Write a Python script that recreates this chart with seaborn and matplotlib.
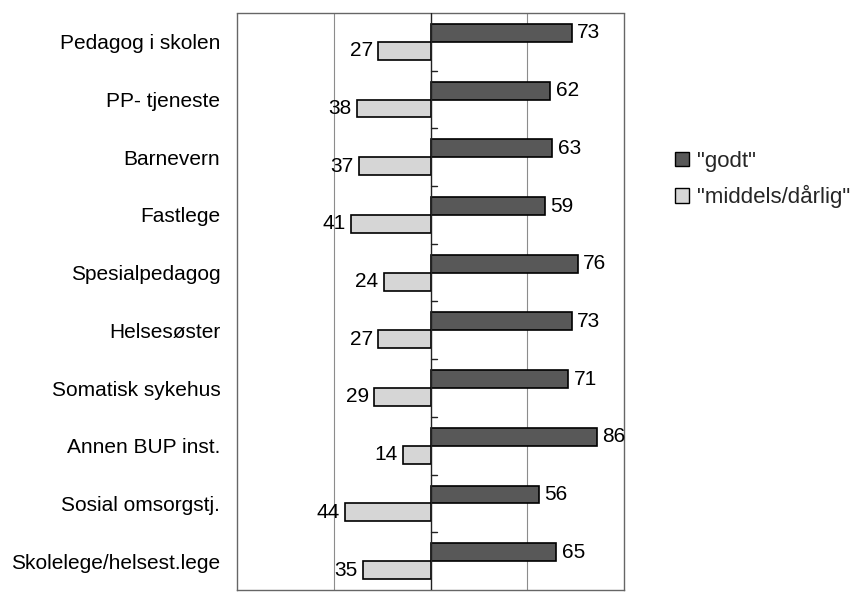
import matplotlib
matplotlib.use("Agg")
import matplotlib.pyplot as plt
import seaborn as sns
import pandas as pd
from matplotlib.patches import Patch

categories = [
    "Pedagog i skolen", "PP- tjeneste", "Barnevern", "Fastlege",
    "Spesialpedagog", "Helsesøster", "Somatisk sykehus", "Annen BUP inst.",
    "Sosial omsorgstj.", "Skolelege/helsest.lege",
]
godt = [73, 62, 63, 59, 76, 73, 71, 86, 56, 65]
middels_darlig = [27, 38, 37, 41, 24, 27, 29, 14, 44, 35]
series_names = ['"godt"', '"middels/dårlig"']
series_colors = ["#585858", "#d6d6d6"]

rows = []
for cat, g, m in zip(categories, godt, middels_darlig):
    rows.append({"kategori": cat, "serie": series_names[0], "verdi": g})
    rows.append({"kategori": cat, "serie": series_names[1], "verdi": -m})
df = pd.DataFrame(rows)

sns.set_theme(style="white")
plt.rcParams["font.family"] = ["Liberation Sans", "DejaVu Sans"]

fig = plt.figure(figsize=(8.59, 5.96), dpi=100)
ax = fig.add_axes([237 / 859, 1 - 590 / 596, (624 - 237) / 859, (590 - 13) / 596])

sns.barplot(
    data=df, y="kategori", x="verdi", hue="serie", order=categories,
    hue_order=series_names, palette=series_colors, width=0.62,
    edgecolor="black", linewidth=1.2, errorbar=None, legend=False,
    saturation=1, ax=ax,
)

ax.set_xlim(-100, 100)
ax.set_ylim(len(categories) - 0.5, -0.5)

# vertical gridlines and the zero axis
for xv in (-50, 50):
    ax.axvline(xv, color="#8c8c8c", linewidth=0.8, zorder=0)
ax.axvline(0, color="#222222", linewidth=1.0, zorder=3)
for i in range(len(categories) - 1):
    ax.plot([0, 3.2], [i + 0.5, i + 0.5], color="#222222", linewidth=1.0, zorder=3)

# value labels at the outer end of each bar
for container, vals in zip(ax.containers, (godt, middels_darlig)):
    for bar, v in zip(container, vals):
        x_end = bar.get_x() + bar.get_width()
        yc = bar.get_y() + bar.get_height() / 2
        if x_end >= 0:
            ha, pad = "left", 4
        else:
            ha, pad = "right", -4
        ax.annotate(str(v), (x_end, yc), xytext=(pad, 0), textcoords="offset points",
                    ha=ha, va="center", fontsize=15, color="black")

ax.set_xlabel("")
ax.set_ylabel("")
ax.set_xticks([])
ax.tick_params(axis="y", length=0, pad=12, labelsize=15, labelcolor="black")

for side in ("left", "right", "top", "bottom"):
    ax.spines[side].set_visible(True)
    ax.spines[side].set_color("#666666")
    ax.spines[side].set_linestyle((0, (1, 1)))
    ax.spines[side].set_linewidth(1.0)

handles = [Patch(facecolor=c, edgecolor="black", linewidth=1.0) for c in series_colors]
fig.legend(handles, series_names, loc="upper left", bbox_to_anchor=(675 / 859, 1 - 151 / 596),
           frameon=False, fontsize=16, handlelength=0.62, handleheight=0.62,
           handletextpad=0.35, labelspacing=0.6, borderpad=0, borderaxespad=0)

fig.savefig("out.png", dpi=100)
